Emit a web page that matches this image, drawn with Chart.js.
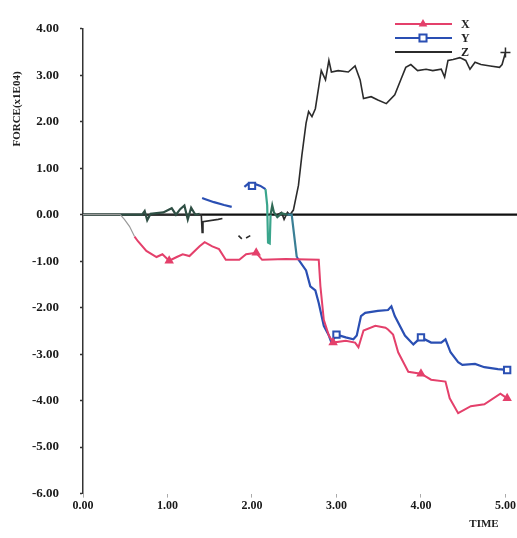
<!DOCTYPE html>
<html><head><meta charset="utf-8">
<script src="https://cdn.jsdelivr.net/npm/chart.js@4"></script>
<style>html,body{margin:0;padding:0;background:#fff}#wrap{width:517px;height:538px;position:relative}</style>
</head><body><div id="wrap"><canvas id="c"></canvas></div>
<script>
// ---- data ----
const seriesNames = ['X', 'Y', 'Z'];
const timeTicks = [0, 1, 2, 3, 4, 5];
const forceTicks = [4, 3, 2, 1, 0, -1, -2, -3, -4, -5, -6];
const xAxisTitle = 'TIME';
const yAxisTitle = 'FORCE(x1E04)';

const xTime  = [0, 0.44, 0.49, 0.55, 0.61, 0.65, 0.75, 0.87, 0.94, 1.02, 1.11, 1.18, 1.26, 1.38, 1.44, 1.53, 1.61, 1.69, 1.85, 1.93, 2.05, 2.12, 2.40, 2.79, 2.81, 2.85, 2.91, 2.96, 3.11, 3.22, 3.26, 3.32, 3.46, 3.58, 3.61, 3.67, 3.73, 3.85, 4.00, 4.12, 4.29, 4.34, 4.44, 4.59, 4.75, 4.94, 5.02];
const xForce = [0, 0, -0.10, -0.25, -0.47, -0.57, -0.78, -0.91, -0.85, -0.99, -0.91, -0.85, -0.89, -0.68, -0.59, -0.68, -0.74, -0.97, -0.97, -0.85, -0.82, -0.97, -0.95, -0.97, -1.54, -2.26, -2.60, -2.75, -2.71, -2.75, -2.85, -2.49, -2.39, -2.43, -2.47, -2.58, -2.96, -3.38, -3.42, -3.55, -3.59, -3.95, -4.27, -4.12, -4.08, -3.85, -3.95];

const yTime  = [0, 0.70, 0.73, 0.76, 0.80, 0.95, 1.05, 1.10, 1.15, 1.20, 1.24, 1.28, 1.33, 1.38, 1.39, 1.41, 1.44, 1.55, 1.67, 1.76, 1.80, 1.91, 1.95, 2.00, 2.05, 2.10, 2.16, 2.18, 2.19, 2.21, 2.22, 2.24, 2.26, 2.30, 2.35, 2.42, 2.47, 2.53, 2.64, 2.69, 2.75, 2.79, 2.85, 2.91, 2.94, 3.00, 3.11, 3.20, 3.24, 3.29, 3.34, 3.49, 3.61, 3.65, 3.69, 3.81, 3.91, 4.00, 4.12, 4.24, 4.29, 4.35, 4.44, 4.49, 4.64, 4.75, 4.91, 5.02];
const yForce = [0, 0, 0.08, -0.12, 0.02, 0.05, 0.14, 0.00, 0.12, 0.20, -0.10, 0.15, 0.00, 0.02, null, 0.36, 0.34, 0.27, 0.21, 0.17, null, 0.60, 0.66, 0.62, 0.65, 0.62, 0.55, 0.20, -0.60, -0.62, 0.00, 0.20, 0.05, -0.05, 0.03, 0.00, 0.00, -0.91, -1.20, -1.54, -1.63, -1.90, -2.39, -2.60, -2.75, -2.58, -2.64, -2.68, -2.60, -2.18, -2.11, -2.07, -2.05, -1.97, -2.18, -2.60, -2.79, -2.64, -2.75, -2.75, -2.68, -2.96, -3.17, -3.23, -3.21, -3.28, -3.32, -3.34];

const zTime  = [0, 1.40, 1.41, 1.42, 1.60, 1.65, 1.70, 1.84, 1.88, 1.90, 1.93, 1.98, 2.10, 2.30, 2.35, 2.38, 2.42, 2.45, 2.49, 2.55, 2.59, 2.64, 2.67, 2.71, 2.75, 2.79, 2.82, 2.87, 2.91, 2.94, 3.02, 3.14, 3.22, 3.28, 3.32, 3.41, 3.49, 3.59, 3.69, 3.76, 3.82, 3.88, 3.96, 4.06, 4.14, 4.24, 4.28, 4.32, 4.38, 4.46, 4.53, 4.58, 4.64, 4.71, 4.82, 4.93, 4.96, 5.00];
const zForce = [0, 0, -0.38, -0.15, -0.10, -0.08, null, -0.45, -0.52, null, -0.50, -0.45, null, 0.00, 0.05, -0.10, 0.05, 0.00, 0.10, 0.63, 1.27, 1.97, 2.22, 2.11, 2.28, 2.75, 3.10, 2.90, 3.32, 3.07, 3.10, 3.07, 3.20, 2.90, 2.50, 2.54, 2.47, 2.39, 2.58, 2.90, 3.17, 3.23, 3.10, 3.13, 3.10, 3.13, 2.96, 3.32, 3.34, 3.38, 3.32, 3.13, 3.28, 3.23, 3.20, 3.17, 3.23, 3.49];

const xMarkerTimes = [1, 2, 3, 4, 5];
const yMarkerTimes = [2, 3, 4, 5];
const zMarkerTimes = [5];

// ---- build ----
function pts(t, v) { return t.map((x, i) => ({ x: x, y: v[i] })); }
function markerSet(t, v, times) {
  const s = new Set();
  times.forEach(m => {
    let best = -1, bd = 1e9;
    t.forEach((x, i) => { if (v[i] !== null && Math.abs(x - m) < bd) { bd = Math.abs(x - m); best = i; } });
    if (best >= 0 && bd < 0.08) s.add(best);
  });
  return s;
}
const RED = '#e4406b', BLUE = '#2a4fb3', BLACK = '#2b2b2b';
const xm = markerSet(xTime, xForce, xMarkerTimes);
const ym = markerSet(yTime, yForce, yMarkerTimes);
const zm = markerSet(zTime, zForce, zMarkerTimes);

const zeroLinePlugin = {
  id: 'zeroLine',
  beforeDatasetsDraw(chart) {
    const ctx = chart.ctx, ys = chart.scales.y;
    const y = ys.getPixelForValue(0);
    ctx.save();
    ctx.strokeStyle = '#111'; ctx.lineWidth = 2.2;
    ctx.beginPath(); ctx.moveTo(chart.chartArea.left, y); ctx.lineTo(chart.width, y); ctx.stroke();
    ctx.restore();
  }
};
const legendPlugin = {
  id: 'inlineLegend',
  afterDatasetsDraw(chart) {
    const ctx = chart.ctx;
    ctx.save();
    chart.data.datasets.forEach((ds, i) => {
      const y = 24 + 14 * i;
      ctx.strokeStyle = ds.borderColor; ctx.lineWidth = 2;
      ctx.beginPath(); ctx.moveTo(395, y); ctx.lineTo(452, y); ctx.stroke();
      if (ds.pointStyle && i < 2) {
        ctx.fillStyle = ds.pointBackgroundColor; ctx.strokeStyle = ds.borderColor; ctx.lineWidth = 2;
        Chart.helpers.drawPoint(ctx, { pointStyle: ds.pointStyle, radius: ds.legendRadius, rotation: 0, borderWidth: 2 }, 423, y);
      }
      ctx.fillStyle = '#222';
      ctx.font = 'bold 12px "Liberation Serif"';
      ctx.textBaseline = 'middle'; ctx.textAlign = 'left';
      ctx.fillText(ds.label, 461, y + 1);
    });
    ctx.restore();
  }
};
const titlePlugin = {
  id: 'axisTitles',
  afterDraw(chart) {
    const ctx = chart.ctx;
    ctx.save();
    ctx.fillStyle = '#222';
    ctx.font = 'bold 11px "Liberation Serif"';
    ctx.textAlign = 'center'; ctx.textBaseline = 'middle';
    ctx.fillText(xAxisTitle, 484, 524);
    ctx.translate(17, 109); ctx.rotate(-Math.PI / 2);
    ctx.fillText(yAxisTitle, 0, 0);
    ctx.restore();
  }
};

new Chart(document.getElementById('c'), {
  type: 'scatter',
  data: {
    datasets: [
      { label: seriesNames[0], data: pts(xTime, xForce), showLine: true, spanGaps: false, clip: false,
        borderColor: RED, borderWidth: 2, pointStyle: 'triangle', legendRadius: 3,
        pointBackgroundColor: RED, pointBorderColor: RED,
        pointRadius: c => xm.has(c.dataIndex) ? 3.5 : 0,
        segment: { borderColor: c => c.p1.parsed.x <= 0.62 ? '#9a9a9a' : undefined,
                   borderWidth: c => c.p1.parsed.x <= 0.62 ? 1.2 : undefined } },
      { label: seriesNames[1], data: pts(yTime, yForce), showLine: true, spanGaps: false, clip: false,
        borderColor: BLUE, borderWidth: 2.2, pointStyle: 'rect', legendRadius: 5,
        pointBackgroundColor: '#fff', pointBorderColor: BLUE, pointBorderWidth: 2,
        pointRadius: c => ym.has(c.dataIndex) ? 4.5 : 0,
        segment: { borderColor: c => {
          if (c.p1.parsed.x <= 1.39) return '#2f4f44';
          if (c.p0.parsed.x >= 2.16 && c.p1.parsed.x <= 2.23) return '#3aa58c';
          if (c.p0.parsed.x >= 2.22 && c.p1.parsed.x <= 2.43) return '#2f6a55';
          if (c.p0.parsed.x >= 2.42 && c.p1.parsed.x <= 2.6) return '#3a7f95';
          return undefined; } } },
      { label: seriesNames[2], data: pts(zTime, zForce), showLine: true, spanGaps: false, clip: false,
        borderColor: BLACK, borderWidth: 1.6, pointStyle: 'cross', legendRadius: 4,
        pointBackgroundColor: BLACK, pointBorderColor: BLACK, pointBorderWidth: 1.5,
        pointRadius: c => zm.has(c.dataIndex) ? 5 : 0 }
    ]
  },
  options: {
    responsive: true, maintainAspectRatio: false, animation: false, devicePixelRatio: 1,
    layout: { padding: { top: 21, right: 0, bottom: 24, left: 0 } },
    plugins: { legend: { display: false }, tooltip: { enabled: false } },
    scales: {
      x: {
        type: 'linear', min: 0, max: 5.03,
        afterBuildTicks: s => { s.ticks = timeTicks.map(v => ({ value: v })); },
        ticks: { callback: v => Number(v).toFixed(2), color: '#1a1a1a', padding: 1, maxRotation: 0,
                 font: { family: 'Liberation Serif', weight: 'bold', size: 12 } },
        grid: { drawOnChartArea: false, drawTicks: true, tickLength: 4, color: '#aaa' },
        border: { display: false }
      },
      y: {
        min: -6, max: 4,
        afterBuildTicks: s => { s.ticks = forceTicks.map(v => ({ value: v })); },
        afterFit: s => { s.width = 83; },
        ticks: { callback: v => Number(v).toFixed(2), color: '#1a1a1a', padding: 21,
                 font: { family: 'Liberation Serif', weight: 'bold', size: 13 } },
        grid: { drawOnChartArea: false, drawTicks: true, tickLength: 3, tickColor: '#333', tickWidth: 1.5 },
        border: { display: true, color: '#333', width: 1.5 }
      }
    }
  },
  plugins: [zeroLinePlugin, legendPlugin, titlePlugin]
});
</script>
</body></html>
